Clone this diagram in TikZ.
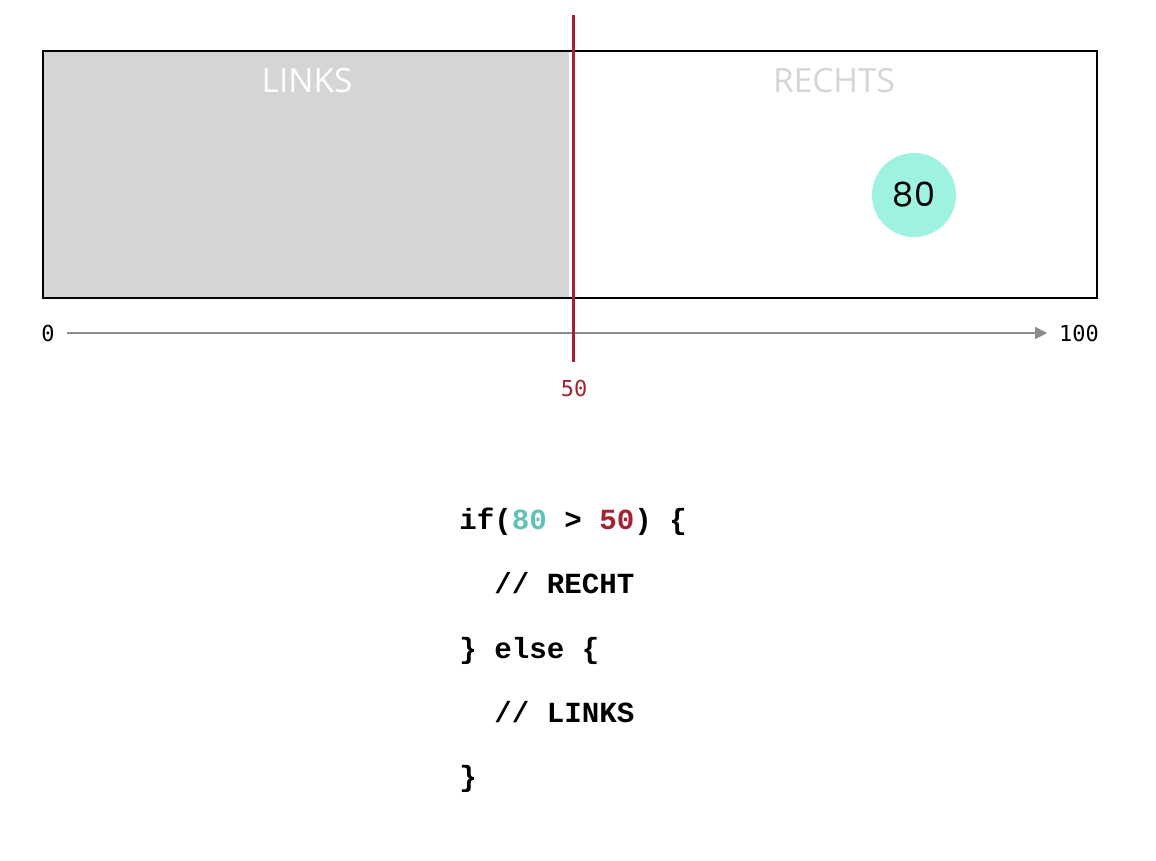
\documentclass[tikz,border=0pt]{standalone}
\usepackage{fontspec}
\usepackage{xcolor}
\usepackage{tikz}
\usetikzlibrary{arrows.meta, positioning}

\newfontfamily\labelfont{Open Sans}
\newfontfamily\numfont{Poppins}
\newfontfamily\axisfont{DejaVu Sans Mono}
\newfontfamily\codefont{Liberation Mono}

\definecolor{markred}{HTML}{A52232}
\definecolor{mint}{HTML}{9EF2E0}
\definecolor{teal80}{HTML}{5FC2B8}
\definecolor{halfgray}{HTML}{D5D5D5}
\definecolor{axisgray}{HTML}{8C8C8C}

\begin{document}
\begin{tikzpicture}[
  x=0.02cm, y=-0.02cm,
  half/.style={
    font=\labelfont\fontsize{19}{23}\selectfont,
    anchor=base
  },
  value/.style={
    circle,
    fill=mint,
    minimum size=84*0.569pt,
    inner sep=0pt,
    font=\numfont\fontsize{19}{23}\selectfont
  },
  tick/.style={
    inner sep=0pt,
    font=\axisfont\fontsize{12.5}{15}\selectfont
  },
  axis/.style={
    -{Triangle[length=7pt, width=6.5pt]},
    line width=1.5pt,
    draw=axisgray,
    shorten >=6.5pt,
    shorten <=7pt
  },
  marker/.style={
    line width=1.7pt,
    draw=markred
  },
  code/.style={
    anchor=base west,
    inner sep=0pt,
    font=\codefont\bfseries\fontsize{16.6}{20}\selectfont
  }
]
\useasboundingbox (0,0) rectangle (1156,860);

% Two halves of the range
\fill[halfgray] (43,51) rectangle (569,298);
\draw[line width=1.1pt] (43,51) rectangle (1097,298);
\node[half, text=white] (links) at (307,92) {LINKS};
\node[half, text=halfgray] (rechts) at (834,92) {RECHTS};

% The value
\node[value] (wert) at (914,195) {80};

% Number line
\node[tick] (zero) at (48,333) {0};
\node[tick] (hundred) at (1079,333) {100};
\draw[axis] (zero) -- (hundred);

% Threshold marker
\coordinate (mtop) at (573,15);
\coordinate (mbot) at (573,362);
\draw[marker] (mtop) -- (mbot);
\node[tick, text=markred] (fifty) at (574,388) {50};

% Code snippet
\node[code] (c1) at (459,529) {if(\textcolor{teal80}{80} > \textcolor{markred}{50}) \{};
\node[code] (c2) at (459,593) {\hphantom{xx}// RECHT};
\node[code] (c3) at (459,658) {\} else \{};
\node[code] (c4) at (459,722) {\hphantom{xx}// LINKS};
\node[code] (c5) at (459,786) {\}};
\end{tikzpicture}
\end{document}
